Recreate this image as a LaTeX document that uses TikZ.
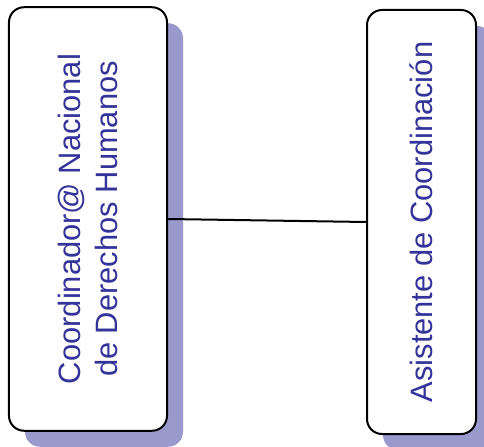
\documentclass[tikz,border=0pt]{standalone}
\usepackage{fontspec}
\setmainfont{Liberation Sans}
\usetikzlibrary{shadows}
\definecolor{boxtext}{RGB}{51,51,153}
\definecolor{boxshadow}{RGB}{153,153,204}
\begin{document}
\begin{tikzpicture}[x=1bp,y=1bp,
  orgbox/.style={draw=black, line width=2bp, fill=white, rounded corners=15bp,
    inner sep=0pt,
    general shadow={fill=boxshadow, shadow xshift=16bp, shadow yshift=-16bp}},
  orglabel/.style={rotate=90, text=boxtext, align=center,
    font=\fontsize{31}{38}\selectfont},
  link/.style={draw=black, line width=2bp}]
  \useasboundingbox (0,0) rectangle (484,-447);
  % left box: national coordinator
  \node[orgbox, minimum width=158bp, minimum height=423.5bp] (coord) at (88,-219) {};
  \node[orglabel] (coordtext) at (coord.center) {Coordinador@ Nacional\\de Derechos Humanos};
  % right box: assistant
  \node[orgbox, minimum width=109bp, minimum height=424bp] (asist) at (421.5,-222) {};
  \node[orglabel] (asisttext) at (asist.center) {Asistente de Coordinación};
  % connector
  \draw[link] (coord.east) -- (asist.west);
\end{tikzpicture}
\end{document}
